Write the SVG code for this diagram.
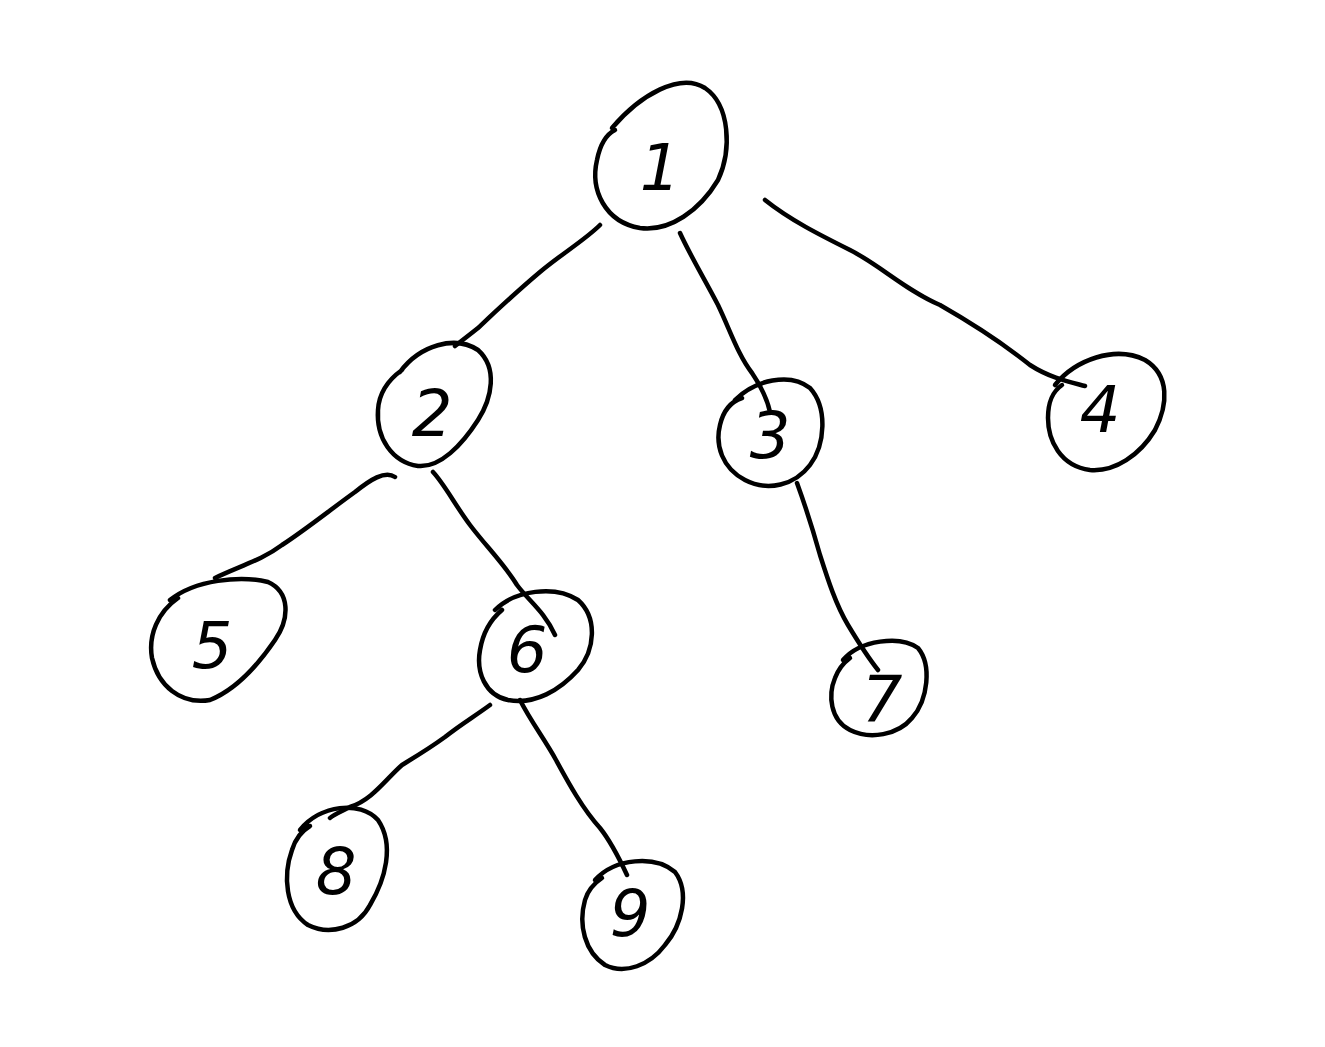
<svg xmlns="http://www.w3.org/2000/svg" width="1325" height="1047" viewBox="0 0 1325 1047">
<style>
.n{fill:none;stroke:#000;stroke-width:4.5;stroke-linecap:round;stroke-linejoin:round}
.e{fill:none;stroke:#000;stroke-width:4.5;stroke-linecap:round;stroke-linejoin:round}
.t{font-family:"DejaVu Sans","Liberation Sans",sans-serif;font-size:64px;font-weight:normal;fill:#000;text-anchor:middle;font-style:italic}
</style>
<rect width="1325" height="1047" fill="#fff"/>
<g id="connectors">
<path class="e" d="M600,225 C585,240 560,255 540,272 C515,293 495,312 478,328 C468,336 460,342 455,346"/>
<path class="e" d="M680,233 C690,255 705,280 718,305 C730,330 738,355 752,373 C760,385 767,398 770,412"/>
<path class="e" d="M765,200 C790,220 820,235 850,250 C880,265 905,290 940,305 C975,325 1005,345 1030,365 C1050,378 1070,382 1085,386"/>
<path class="e" d="M395,477 C385,470 370,480 355,492 C330,510 305,530 282,545 C262,560 240,566 215,578"/>
<path class="e" d="M433,472 C445,485 455,505 470,525 C485,545 505,565 517,585 C528,600 545,612 555,635"/>
<path class="e" d="M490,705 C475,716 460,725 445,737 C430,748 415,757 402,765 C385,780 372,800 350,807 C340,812 333,815 330,818"/>
<path class="e" d="M520,700 C530,720 545,740 556,760 C568,782 582,808 600,828 C612,843 620,860 627,875"/>
<path class="e" d="M797,483 C805,505 813,530 820,555 C828,580 836,605 848,625 C860,645 870,660 878,670"/>
</g>
<g id="node1"><path class="n" d="M612,128 C640,95 680,72 705,88 C730,105 732,150 718,180 C700,210 670,232 640,228 C605,222 590,190 597,160 C600,145 605,135 615,130"/><text class="t" x="660" y="190">1</text></g>
<g id="node2"><path class="n" d="M400,372 C420,345 455,335 478,350 C498,368 492,398 478,420 C462,445 440,468 418,466 C392,462 376,438 378,410 C379,392 388,380 402,370"/><text class="t" x="432" y="436">2</text></g>
<g id="node3"><path class="n" d="M735,400 C755,380 790,372 810,388 C828,408 825,445 810,465 C795,485 768,492 745,480 C722,468 715,445 720,425 C723,412 730,402 742,398"/><text class="t" x="770" y="458">3</text></g>
<g id="node4"><path class="n" d="M1055,385 C1075,360 1115,345 1145,360 C1170,375 1168,405 1155,430 C1140,455 1115,472 1090,470 C1060,466 1048,440 1048,418 C1048,402 1052,392 1062,385"/><text class="t" x="1100" y="432">4</text></g>
<g id="node5"><path class="n" d="M170,600 C195,580 240,575 268,582 C290,592 290,618 275,640 C258,665 235,690 210,700 C180,705 158,685 152,658 C148,635 158,612 178,598"/><text class="t" x="212" y="668">5</text></g>
<g id="node6"><path class="n" d="M495,610 C515,590 555,585 578,600 C598,618 595,650 578,670 C560,690 535,705 508,700 C485,695 476,672 480,650 C483,632 490,620 502,610"/><text class="t" x="527" y="672">6</text></g>
<g id="node7"><path class="n" d="M843,660 C860,640 900,635 918,648 C932,665 928,700 912,718 C898,735 870,740 850,730 C830,720 828,695 835,678 C838,670 842,664 850,658"/><text class="t" x="882" y="722">7</text></g>
<g id="node8"><path class="n" d="M300,830 C320,805 360,800 378,820 C395,845 385,880 370,905 C358,928 330,936 308,925 C285,910 283,875 292,850 C295,840 300,832 310,826"/><text class="t" x="336" y="894">8</text></g>
<g id="node9"><path class="n" d="M595,880 C615,858 655,855 675,872 C690,892 682,925 665,945 C650,965 625,975 605,965 C585,952 578,925 585,900 C588,890 593,884 602,878"/><text class="t" x="630" y="936">9</text></g>
</svg>
